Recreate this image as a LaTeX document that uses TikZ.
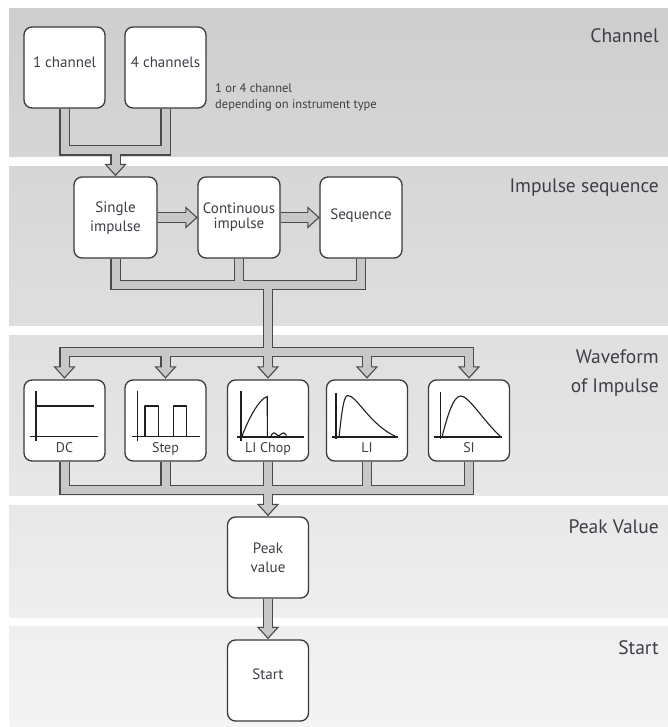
\documentclass[tikz,border=0pt]{standalone}
\usepackage{fontspec}
\setmainfont{PT Sans}
\usetikzlibrary{calc}
\pgfdeclarelayer{bands}
\pgfdeclarelayer{pipeo}
\pgfdeclarelayer{pipeh}
\pgfdeclarelayer{pipei}
\pgfsetlayers{bands,pipeo,pipeh,pipei,main}
\definecolor{boxline}{HTML}{3A3A3A}
\definecolor{pipewall}{HTML}{4A4A4A}
\definecolor{pipefill}{HTML}{C8C8C8}
\definecolor{txtc}{HTML}{3E3E48}
\definecolor{bandtop}{HTML}{CFCECE}
\definecolor{bandbot}{HTML}{F4F4F4}
\tikzset{
  adown/.pic={\draw[draw=pipewall, line width=1.1pt, fill=pipefill, line join=miter] (-10,-11) -- (0,0) -- (10,-11) -- cycle;},
  aright/.pic={\draw[draw=pipewall, line width=1.1pt, fill=pipefill, line join=miter] (-11,-10) -- (0,0) -- (-11,10) -- cycle;},
}
\newcommand\allpipes[2]{%
  \draw[#1] (c1.south) |- (chj) -| (c4.south);
  \draw[#1] (chj) -- ($(tsi)+(0,-#2)$);
  \draw[#1] (si.east) -- ($(tci)+(-#2,0)$);
  \draw[#1] (ci.east) -- ($(tsq)+(-#2,0)$);
  \draw[#1] (si.south) |- (isj) -| (sq.south);
  \draw[#1] (ci.south) -- (ci.south |- isj);
  \draw[#1] (isj) -- ($(tlc)+(0,-#2)$);
  \draw[#1] ($(tdc)+(0,-#2)$) |- (wvj) -| ($(tsI)+(0,-#2)$);
  \draw[#1] (wvj -| st.north) -- ($(tst)+(0,-#2)$);
  \draw[#1] (wvj -| li.north) -- ($(tli)+(0,-#2)$);
  \draw[#1] (dc.south) |- (wcj) -| (sI.south);
  \draw[#1] (st.south) -- (st.south |- wcj);
  \draw[#1] (li.south) -- (li.south |- wcj);
  \draw[#1] (lc.south) -- ($(tpk)+(0,-#2)$);
  \draw[#1] (pk.south) -- ($(tsa)+(0,-#2)$);
}
\begin{document}
\begin{tikzpicture}[x=1pt,y=-1pt,
  blk/.style={draw=boxline, line width=1.3pt, fill=white, rounded corners=8pt,
    minimum width=81pt, minimum height=81pt, inner sep=0pt},
  btxt/.style={font=\fontsize{15}{17}\selectfont, text=txtc, anchor=base, inner sep=0pt},
  wtxt/.style={font=\fontsize{14}{16}\selectfont, text=txtc, anchor=base, inner sep=0pt},
  ntxt/.style={font=\fontsize{12.5}{15}\selectfont, text=txtc, anchor=base west, inner sep=0pt},
  stxt/.style={font=\fontsize{19.5}{22}\selectfont, text=txtc, anchor=base east, inner sep=0pt},
  pout/.style={draw=pipewall, line width=10.2pt, line join=miter, line cap=butt},
  pin/.style={draw=pipefill, line width=8pt, line join=miter, line cap=butt},
  wv/.style={draw=black!88, line width=1.1pt, line join=round},
]
\useasboundingbox (0,0) rectangle (668,727);
\begin{pgfonlayer}{bands}
  \fill[white] (0,0) rectangle (668,727);
  \shade[top color=bandtop, bottom color=bandbot] (9,9) rectangle (668,727);
  \fill[white] (9,157) rectangle (668,166);
  \fill[white] (9,326) rectangle (668,335);
  \fill[white] (9,496) rectangle (668,505);
  \fill[white] (9,618) rectangle (668,626);
\end{pgfonlayer}

% section labels
\node[stxt] (lch) at (659,43) {Channel};
\node[stxt] (lis) at (659,193) {Impulse sequence};
\node[stxt] (lwf1) at (659,363) {Waveform};
\node[stxt] (lwf2) at (659,392) {of Impulse};
\node[stxt] (lpv) at (659,533) {Peak Value};
\node[stxt] (lst) at (659,654) {Start};

% channel
\node[blk] (c1) at (64.5,67.5) {};
\node[blk] (c4) at (165.5,67.5) {};
\node[btxt] (c1t) at ($(c1.center)+(0,0.5)$) {1 channel};
\node[btxt] (c4t) at ($(c4.center)+(0,0.5)$) {4 channels};
\node[ntxt] (n1) at (215,93) {1 or 4 channel};
\node[ntxt] (n2) at (215,108.5) {depending on instrument type};

% impulse sequence
\node[blk, minimum width=83pt] (si) at (115.5,217.5) {};
\node[blk, minimum width=82pt] (ci) at (239,217.5) {};
\node[blk, minimum width=82pt] (sq) at (361,217.5) {};
\node[btxt] (sit1) at ($(si.center)+(0,-4.5)$) {Single};
\node[btxt] (sit2) at ($(si.center)+(0,13.5)$) {impulse};
\node[btxt] (cit1) at ($(ci.center)+(0,-3.5)$) {Continuous};
\node[btxt] (cit2) at ($(ci.center)+(0,10.5)$) {impulse};
\node[btxt] (sqt) at ($(sq.center)+(0,1.5)$) {Sequence};

% waveforms
\node[blk] (dc) at (64.5,420.5) {};
\node[blk] (st) at (165.5,420.5) {};
\node[blk] (lc) at (268,420.5) {};
\node[blk] (li) at (367,420.5) {};
\node[blk] (sI) at (469,420.5) {};
\node[wtxt] (dct) at ($(dc.center)+(0,31.5)$) {DC};
\node[wtxt] (stt) at ($(st.center)+(0,31.5)$) {Step};
\node[wtxt] (lct) at ($(lc.center)+(0,31.5)$) {LI Chop};
\node[wtxt] (lit) at ($(li.center)+(0,31.5)$) {LI};
\node[wtxt] (sIt) at ($(sI.center)+(0,31.5)$) {SI};

% peak and start
\node[blk] (pk) at (268,557.5) {};
\node[blk] (sa) at (268,680.5) {};
\node[btxt] (pkt1) at ($(pk.center)+(0,-4.5)$) {Peak};
\node[btxt] (pkt2) at ($(pk.center)+(0,14.5)$) {value};
\node[btxt] (sat) at ($(sa.center)+(0,-1.5)$) {Start};

% waveform pictures
\begin{scope}[shift={(dc.center)}]
  \draw[wv] (-28.5,-29.5) -- (-28.5,20.5);
  \draw[wv] (-34.5,16.2) -- (33.5,16.2);
  \draw[wv] (-28.5,-14.5) -- (29.5,-14.5);
\end{scope}
\begin{scope}[shift={(st.center)}]
  \draw[wv] (-28.2,-29.5) -- (-28.2,20.5);
  \draw[wv] (-34,16.2) -- (34.5,16.2);
  \draw[wv] (-20.5,16.2) -- (-20.5,-14.5) -- (-7.2,-14.5) -- (-7.2,16.2);
  \draw[wv] (7.8,16.2) -- (7.8,-14.5) -- (21.2,-14.5) -- (21.2,16.2);
\end{scope}
\begin{scope}[shift={(lc.center)}]
  \draw[wv] (-27,-29.5) -- (-27,20.5);
  \draw[wv] (-31.3,16.5) -- (36,16.5);
  \draw[wv] (-26.3,16.5) .. controls (-21,2) and (-10,-21) .. (-0.8,-24) -- (-0.6,16.5);
  \draw[wv] (2.5,16.5) .. controls (4.5,11.5) and (6.5,11.5) .. (8.5,14) .. controls (10,16) and (11.5,16) .. (13,13.5) .. controls (14.5,11.5) and (16.5,12) .. (18.5,15);
\end{scope}
\begin{scope}[shift={(li.center)}]
  \draw[wv] (-31,-27.5) -- (-31,18.5);
  \draw[wv] (-35.3,16.5) -- (30.7,16.5);
  \draw[wv] (-28,16.5) .. controls (-26,0) and (-24,-25) .. (-19.3,-25) .. controls (-10,-25) and (2,4) .. (29.7,16.5);
\end{scope}
\begin{scope}[shift={(sI.center)}]
  \draw[wv] (-28.3,-28.5) -- (-28.3,18.5);
  \draw[wv] (-35,16.5) -- (32.7,16.5);
  \draw[wv] (-27,16.5) .. controls (-22,-3) and (-16,-24.5) .. (-8.3,-24.5) .. controls (0,-24.5) and (14,0) .. (32,16.5);
\end{scope}

% junctions and arrow tips
\coordinate (chj) at (115.5,150.5);
\coordinate (isj) at (268,285);
\coordinate (wvj) at (268,352);
\coordinate (wcj) at (268,490);
\coordinate (tsi) at ($(si.north)+(0,-1)$);
\coordinate (tci) at ($(ci.west)+(-0.5,0)$);
\coordinate (tsq) at ($(sq.west)+(-0.5,0)$);
\coordinate (tdc) at ($(dc.north)+(0,-1.5)$);
\coordinate (tst) at ($(st.north)+(0,-1.5)$);
\coordinate (tlc) at ($(lc.north)+(0,-1.5)$);
\coordinate (tli) at ($(li.north)+(0,-1.5)$);
\coordinate (tsI) at ($(sI.north)+(0,-1.5)$);
\coordinate (tpk) at ($(pk.north)+(0,-1)$);
\coordinate (tsa) at ($(sa.north)+(0,-1)$);

\begin{pgfonlayer}{pipeo}
  \allpipes{pout}{11}
\end{pgfonlayer}
\begin{pgfonlayer}{pipeh}
  \pic at (tsi) {adown};
  \pic at (tci) {aright};
  \pic at (tsq) {aright};
  \pic at (tdc) {adown};
  \pic at (tst) {adown};
  \pic at (tlc) {adown};
  \pic at (tli) {adown};
  \pic at (tsI) {adown};
  \pic at (tpk) {adown};
  \pic at (tsa) {adown};
\end{pgfonlayer}
\begin{pgfonlayer}{pipei}
  \allpipes{pin}{9}
\end{pgfonlayer}
\end{tikzpicture}
\end{document}
